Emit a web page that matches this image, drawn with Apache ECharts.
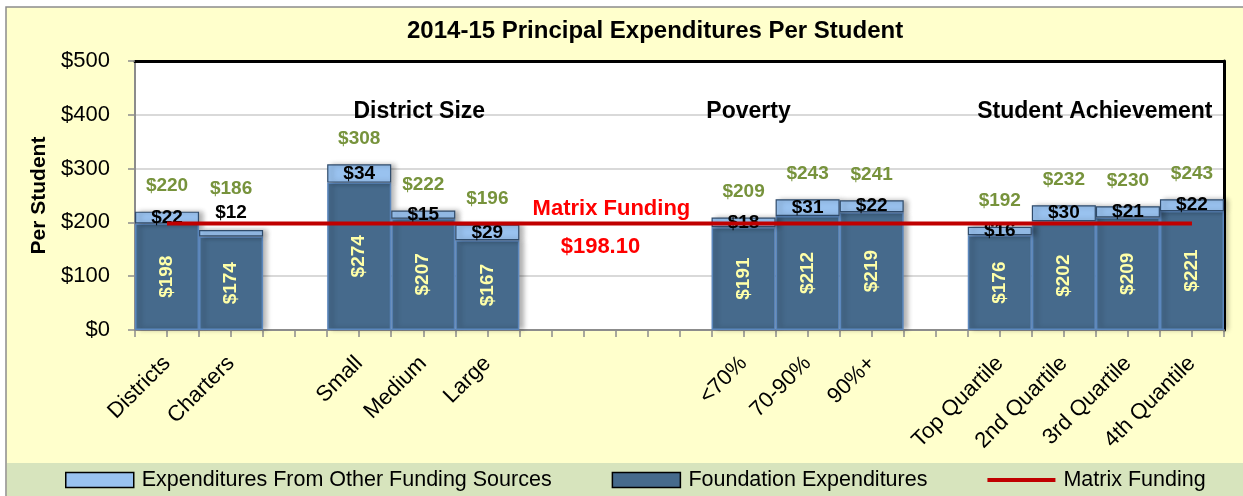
<!DOCTYPE html>
<html>
<head>
<meta charset="utf-8">
<title>2014-15 Principal Expenditures Per Student</title>
<script src="https://cdn.jsdelivr.net/npm/echarts@6/dist/echarts.min.js"></script>
<style>
  html, body { margin: 0; padding: 0; background: #fff; }
  #chart { width: 1243px; height: 496px; }
</style>
</head>
<body>
<div id="chart"></div>
<script>
// '' marks an empty spacer slot between the groups
const categories = ['Districts', 'Charters', '', 'Small', 'Medium', 'Large', '', '', '',
  '<70%', '70-90%', '90%+', '', 'Top Quartile', '2nd Quartile', '3rd Quartile', '4th Quantile'];
const foundation = [198, 174, null, 274, 207, 167, null, null, null, 191, 212, 219, null, 176, 202, 209, 221];
const otherSources = [22, 12, null, 34, 15, 29, null, null, null, 18, 31, 22, null, 16, 30, 21, 22];
const totals = [220, 186, null, 308, 222, 196, null, null, null, 209, 243, 241, null, 192, 232, 230, 243];
const matrixFunding = 198.10;
const yMax = 500;
const yStep = 100;
// group headings, placed over a category
const groups = [
  { name: 'District Size', at: 4 },
  { name: 'Poverty', at: 9 },
  { name: 'Student Achievement', at: 14 }
];

const FONT = "'Liberation Sans', Arial, sans-serif";
const money = v => '$' + v;
// thin "other" segments get their label above the bar
const isThin = v => v != null && v < 13;

const chart = echarts.init(document.getElementById('chart'));

const groupOffsets = [[-4, -3], [5, -3], [31, -3]];

const option = {
  backgroundColor: '#fff',
  animation: false,
  textStyle: { fontFamily: FONT },
  title: {
    text: '2014-15 Principal Expenditures Per Student',
    left: 407,
    top: 19,
    padding: 0,
    textStyle: { fontFamily: FONT, fontSize: 24, fontWeight: 'bold', color: '#000' }
  },
  graphic: [
    {
      type: 'rect', z: -10,
      shape: { x: 6, y: 7, width: 1250, height: 500 },
      style: { fill: '#FFFFCC', stroke: '#8C8C8C', lineWidth: 1.5 }
    },
    {
      type: 'rect', z: -9,
      shape: { x: 7, y: 463, width: 1240, height: 40 },
      style: { fill: '#D7E4BD' }
    }
  ],
  legend: {
    data: [
      { name: 'Expenditures From Other Funding Sources', icon: 'rect', itemStyle: { borderColor: '#000', borderWidth: 1.5 } },
      { name: 'Foundation Expenditures', icon: 'rect', itemStyle: { borderColor: '#000', borderWidth: 1.5 } },
      { name: 'Matrix Funding', icon: 'path://M0,0H70V4H0Z' }
    ],
    left: 65,
    top: 469,
    padding: 0,
    itemWidth: 68,
    itemHeight: 15,
    itemGap: 60,
    textStyle: { fontFamily: FONT, fontSize: 21.5, color: '#000', padding: [0, 0, 0, 3] }
  },
  grid: {
    left: 135, right: 19, top: 61, bottom: 166,
    show: true, backgroundColor: '#fff', borderWidth: 0
  },
  xAxis: [
    {
      type: 'category',
      data: categories,
      axisLine: { lineStyle: { color: '#8C8C8C', width: 2 } },
      axisTick: { show: false },
      axisLabel: {
        interval: 0, rotate: 45, margin: 30, padding: [34, 0, 0, 0],
        fontFamily: FONT, fontSize: 22, color: '#000'
      }
    },
    {
      // tick marks at every half slot
      type: 'category',
      data: new Array(categories.length * 2).fill(''),
      position: 'bottom',
      axisLine: { show: false },
      axisTick: { show: true, interval: 0, length: 7, lineStyle: { color: '#8C8C8C', width: 1.5 } },
      axisLabel: { show: false }
    },
    {
      type: 'category',
      data: categories,
      position: 'top',
      axisLine: { lineStyle: { color: '#000', width: 3 } },
      axisTick: { show: false },
      axisLabel: { show: false }
    }
  ],
  yAxis: [
    {
      type: 'value',
      min: 0, max: yMax, interval: yStep,
      name: 'Per Student',
      nameLocation: 'middle',
      nameRotate: 90,
      nameGap: 80,
      nameTextStyle: { fontFamily: FONT, fontSize: 21, fontWeight: 'bold', color: '#000' },
      axisLine: { show: true, lineStyle: { color: '#8C8C8C', width: 2 } },
      axisTick: { show: true, length: 7, lineStyle: { color: '#8C8C8C', width: 1.5 } },
      axisLabel: { formatter: money, margin: 25, fontFamily: FONT, fontSize: 22, color: '#000' },
      splitLine: { showMinLine: false, showMaxLine: false, lineStyle: { color: '#D9D9D9', width: 2 } }
    },
    {
      type: 'value',
      min: 0, max: yMax, interval: yStep,
      position: 'right',
      axisLine: { show: true, lineStyle: { color: '#000', width: 3 } },
      axisTick: { show: false },
      axisLabel: { show: false },
      splitLine: { show: false }
    }
  ],
  series: [
    {
      name: 'Foundation Expenditures',
      type: 'bar',
      stack: 'exp',
      barCategoryGap: '0%',
      data: foundation,
      itemStyle: {
        color: '#466A8C', borderColor: '#5B87BD', borderWidth: 1.5,
        shadowColor: 'rgba(0,0,0,0.3)', shadowBlur: 5, shadowOffsetX: 4
      },
      label: {
        show: true, position: 'inside', rotate: 90,
        formatter: p => money(p.value),
        fontFamily: FONT, fontSize: 19, fontWeight: 'bold', color: '#FFFFA8'
      }
    },
    {
      name: 'Expenditures From Other Funding Sources',
      type: 'bar',
      stack: 'exp',
      barCategoryGap: '0%',
      data: otherSources.map(v => isThin(v)
        ? { value: v, label: { position: 'top', distance: 8 } }
        : v),
      itemStyle: {
        color: '#99C2EF', borderColor: '#2F4B6B', borderWidth: 1.2,
        shadowColor: 'rgba(0,0,0,0.3)', shadowBlur: 5, shadowOffsetX: 4
      },
      label: {
        show: true, position: 'inside',
        formatter: p => money(p.value),
        fontFamily: FONT, fontSize: 19, fontWeight: 'bold', color: '#000'
      }
    },
    {
      name: 'Total',
      type: 'scatter',
      data: totals.map((v, i) => isThin(otherSources[i])
        ? { value: v, label: { distance: 32 } }
        : v),
      symbolSize: 0,
      itemStyle: { opacity: 1 },
      label: {
        show: true, position: 'top', distance: 16,
        formatter: p => money(p.value),
        fontFamily: FONT, fontSize: 19, fontWeight: 'bold', color: '#77933C'
      },
      tooltip: { show: false }
    },
    {
      name: 'Matrix Funding',
      type: 'line',
      data: categories.map(() => matrixFunding),
      symbol: 'none',
      lineStyle: { color: '#C00000', width: 4 },
      itemStyle: { color: '#C00000' },
      markPoint: {
        symbolSize: 0,
        silent: true,
        label: { show: true, position: 'inside', fontFamily: FONT, fontWeight: 'bold' },
        data: [
          {
            coord: [7, matrixFunding],
            label: { formatter: 'Matrix Funding', offset: [-4, -14], fontSize: 22, color: '#FF0000' }
          },
          {
            coord: [7, matrixFunding],
            label: { formatter: money(matrixFunding.toFixed(2)), offset: [-15, 24], fontSize: 22, color: '#FF0000' }
          }
        ].concat(groups.map((g, i) => ({
          coord: [g.at, 4 * yStep],
          label: { formatter: g.name, offset: groupOffsets[i], fontSize: 23, color: '#000' }
        })))
      }
    }
  ]
};

chart.setOption(option);
</script>
</body>
</html>
